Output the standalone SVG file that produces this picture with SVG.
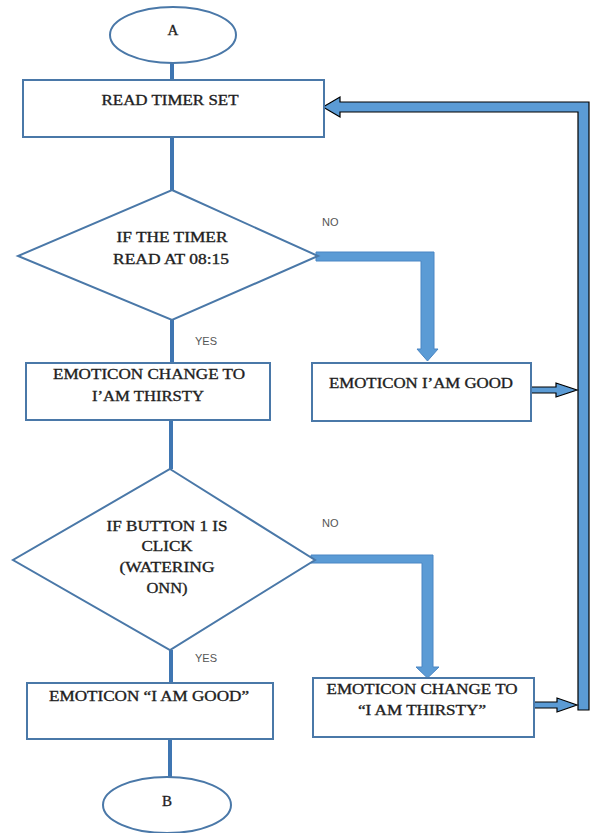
<svg xmlns="http://www.w3.org/2000/svg" width="591" height="833" viewBox="0 0 591 833">
<defs>
<style>
.shape{fill:#fff;stroke:#4a78a8;stroke-width:2}
.t{font-family:"Liberation Serif","Times New Roman",serif;font-size:15px;fill:#1e1e1e;stroke:#1e1e1e;stroke-width:0.35;text-anchor:middle}
.lbl{font-family:"Liberation Sans",Arial,sans-serif;font-size:11px;fill:#555}
.thin{stroke:#3f76b2;stroke-width:4;fill:none}
.blk{fill:#5b9bd5;stroke:#4a86c4;stroke-width:1}
.blkb{fill:#5b9bd5;stroke:#000;stroke-width:1.2}
</style>
</defs>
<rect width="591" height="833" fill="#fff"/>
<g id="connectors">
<line class="thin" x1="172" y1="63" x2="172" y2="80"/>
<line class="thin" x1="172" y1="137" x2="172" y2="190"/>
<line class="thin" x1="172" y1="320" x2="172" y2="363"/>
<line class="thin" x1="171" y1="420" x2="171" y2="469"/>
<line class="thin" x1="171" y1="650" x2="171" y2="683"/>
<line class="thin" x1="170" y1="739" x2="170" y2="777"/>
<polygon class="blk" points="316,252 434,252 434,349 438,349 427.5,361 417,349 421,349 421,261 316,261"/>
<polygon class="blk" points="311,555 433,555 433,667 439,667 427.5,678 416,667 422,667 422,563 311,563"/>
<polygon class="blkb" points="323,107 340,97 340,102 589,102 589,710 578,710 578,112 340,112 340,117"/>
<polygon class="blkb" points="531,387 556,387 556,383 577,390 556,397 556,393 531,393"/>
<polygon class="blkb" points="534,702 557,702 557,698 577,705 557,712 557,708 534,708"/>
<text class="lbl" x="322" y="226">NO</text>
<text class="lbl" x="195" y="345">YES</text>
<text class="lbl" x="322" y="527">NO</text>
<text class="lbl" x="195" y="662">YES</text>
</g>
<g id="start">
<ellipse class="shape" cx="173" cy="35" rx="63" ry="28"/>
<text class="t" x="173" y="35">A</text>
</g>
<g id="read-timer">
<rect class="shape" x="23" y="80" width="301" height="57"/>
<text class="t" x="170" y="105" textLength="137" lengthAdjust="spacingAndGlyphs">READ TIMER SET</text>
</g>
<g id="timer-decision">
<polygon class="shape" points="172,190 318,256 172,320 18,256"/>
<text class="t" x="172" y="242" textLength="111" lengthAdjust="spacingAndGlyphs">IF THE TIMER</text>
<text class="t" x="171" y="264" textLength="116" lengthAdjust="spacingAndGlyphs">READ AT 08:15</text>
</g>
<g id="thirsty1">
<rect class="shape" x="26" y="363" width="244" height="57"/>
<text class="t" x="149" y="379" textLength="192" lengthAdjust="spacingAndGlyphs">EMOTICON CHANGE TO</text>
<text class="t" x="148" y="401" textLength="112" lengthAdjust="spacingAndGlyphs">I’AM THIRSTY</text>
</g>
<g id="good1">
<rect class="shape" x="312" y="363" width="219" height="58"/>
<text class="t" x="421" y="388" textLength="184" lengthAdjust="spacingAndGlyphs">EMOTICON I’AM GOOD</text>
</g>
<g id="button-decision">
<polygon class="shape" points="170,469 315,560 170,650 13,560"/>
<text class="t" x="167" y="531" textLength="121" lengthAdjust="spacingAndGlyphs">IF BUTTON 1 IS</text>
<text class="t" x="167" y="551" textLength="51" lengthAdjust="spacingAndGlyphs">CLICK</text>
<text class="t" x="167" y="572" textLength="95" lengthAdjust="spacingAndGlyphs">(WATERING</text>
<text class="t" x="167" y="593" textLength="41" lengthAdjust="spacingAndGlyphs">ONN)</text>
</g>
<g id="good2">
<rect class="shape" x="27" y="683" width="246" height="56"/>
<text class="t" x="149" y="701" textLength="200" lengthAdjust="spacingAndGlyphs">EMOTICON “I AM GOOD”</text>
</g>
<g id="thirsty2">
<rect class="shape" x="313" y="678" width="221" height="59"/>
<text class="t" x="422" y="694" textLength="191" lengthAdjust="spacingAndGlyphs">EMOTICON CHANGE TO</text>
<text class="t" x="422" y="715" textLength="128" lengthAdjust="spacingAndGlyphs">“I AM THIRSTY”</text>
</g>
<g id="end">
<ellipse class="shape" cx="167" cy="805" rx="64" ry="28"/>
<text class="t" x="167" y="806">B</text>
</g>
</svg>
